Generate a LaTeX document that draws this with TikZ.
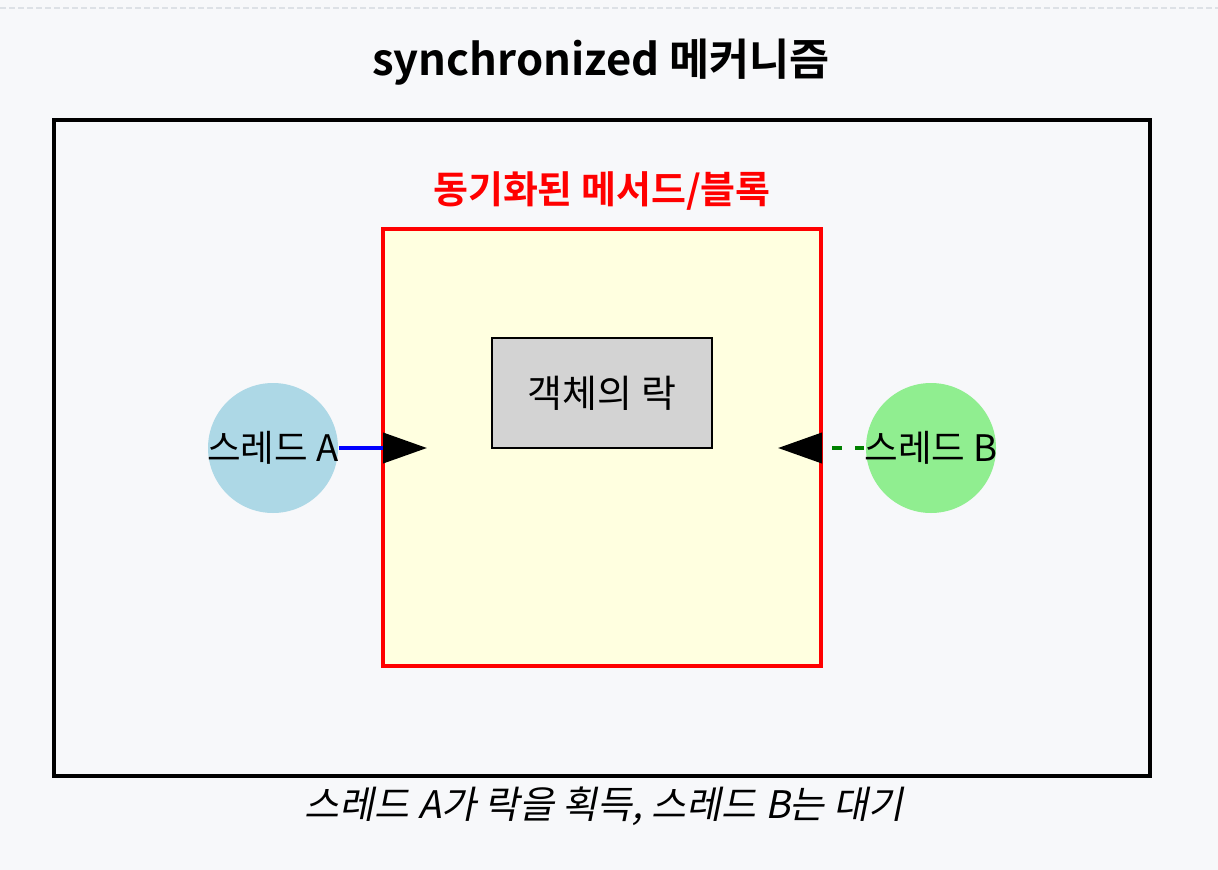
\documentclass[tikz,border=0pt]{standalone}
\usepackage{fontspec}
\setmainfont{Noto Sans CJK KR}[BoldFont={Noto Sans CJK KR Bold}]
\newfontfamily\capfont[FakeSlant=0.2]{Noto Sans CJK KR}
\usepackage{xcolor}
\usetikzlibrary{arrows.meta}

\definecolor{bgcol}{HTML}{F7F8FA}
\definecolor{rulecol}{HTML}{DDE1E6}
\definecolor{syncfill}{HTML}{FFFFE0}
\definecolor{lockfill}{HTML}{D3D3D3}
\definecolor{threadAcol}{HTML}{ADD8E6}
\definecolor{threadBcol}{HTML}{90EE90}
\definecolor{waitcol}{HTML}{008000}

\begin{document}
\begin{tikzpicture}[x=0.25mm, y=-0.25mm, >=Stealth,
    thread/.style={inner sep=0pt, font=\fontsize{26}{30}\selectfont},
    bigtip/.style={-{Triangle[length=11mm, width=7.5mm, black]}}]
    % Background
    \fill [bgcol] (0,0) rectangle (1218,870);
    \useasboundingbox (0,0) rectangle (1218,870);
    \draw [rulecol, line width=0.5mm, dash pattern=on 1.5mm off 0.75mm] (0,8) -- (1218,8);
    % Title
    \node (title) at (601,62) {\fontsize{31}{36}\selectfont\bfseries synchronized 메커니즘};
    % Outer frame
    \draw [line width=0.8mm] (54,120) rectangle (1150,776);
    % Synchronized block
    \draw [red, fill=syncfill, line width=0.8mm] (383,229) rectangle (821,666);
    \node [red] (synclabel) at (602,191) {\fontsize{27}{31}\selectfont\bfseries 동기화된 메서드/블록};
    % Lock
    \node [draw, fill=lockfill, line width=0.4mm, minimum width=55mm, minimum height=27.5mm,
        font=\fontsize{27}{31}\selectfont] (lock) at (602,393) {객체의 락};
    % Threads
    \fill [threadAcol] (273,448) circle (65);
    \fill [threadBcol] (931,448) circle (65);
    \node [thread] (threadA) at (273,448) {스레드 A};
    \node [thread] (threadB) at (931,448) {스레드 B};
    \coordinate (tipA) at (427,448);
    \coordinate (tipB) at (778,448);
    \draw [bigtip, blue, line width=1mm] (threadA.east) -- (tipA);
    \draw [bigtip, waitcol, line width=1mm, dash pattern=on 2.4mm off 3.2mm] (threadB.west) -- (tipB);
    % Caption
    \node (caption) at (604,806) {\capfont\fontsize{27}{31}\selectfont 스레드 A가 락을 획득, 스레드 B는 대기};
\end{tikzpicture}
\end{document}
